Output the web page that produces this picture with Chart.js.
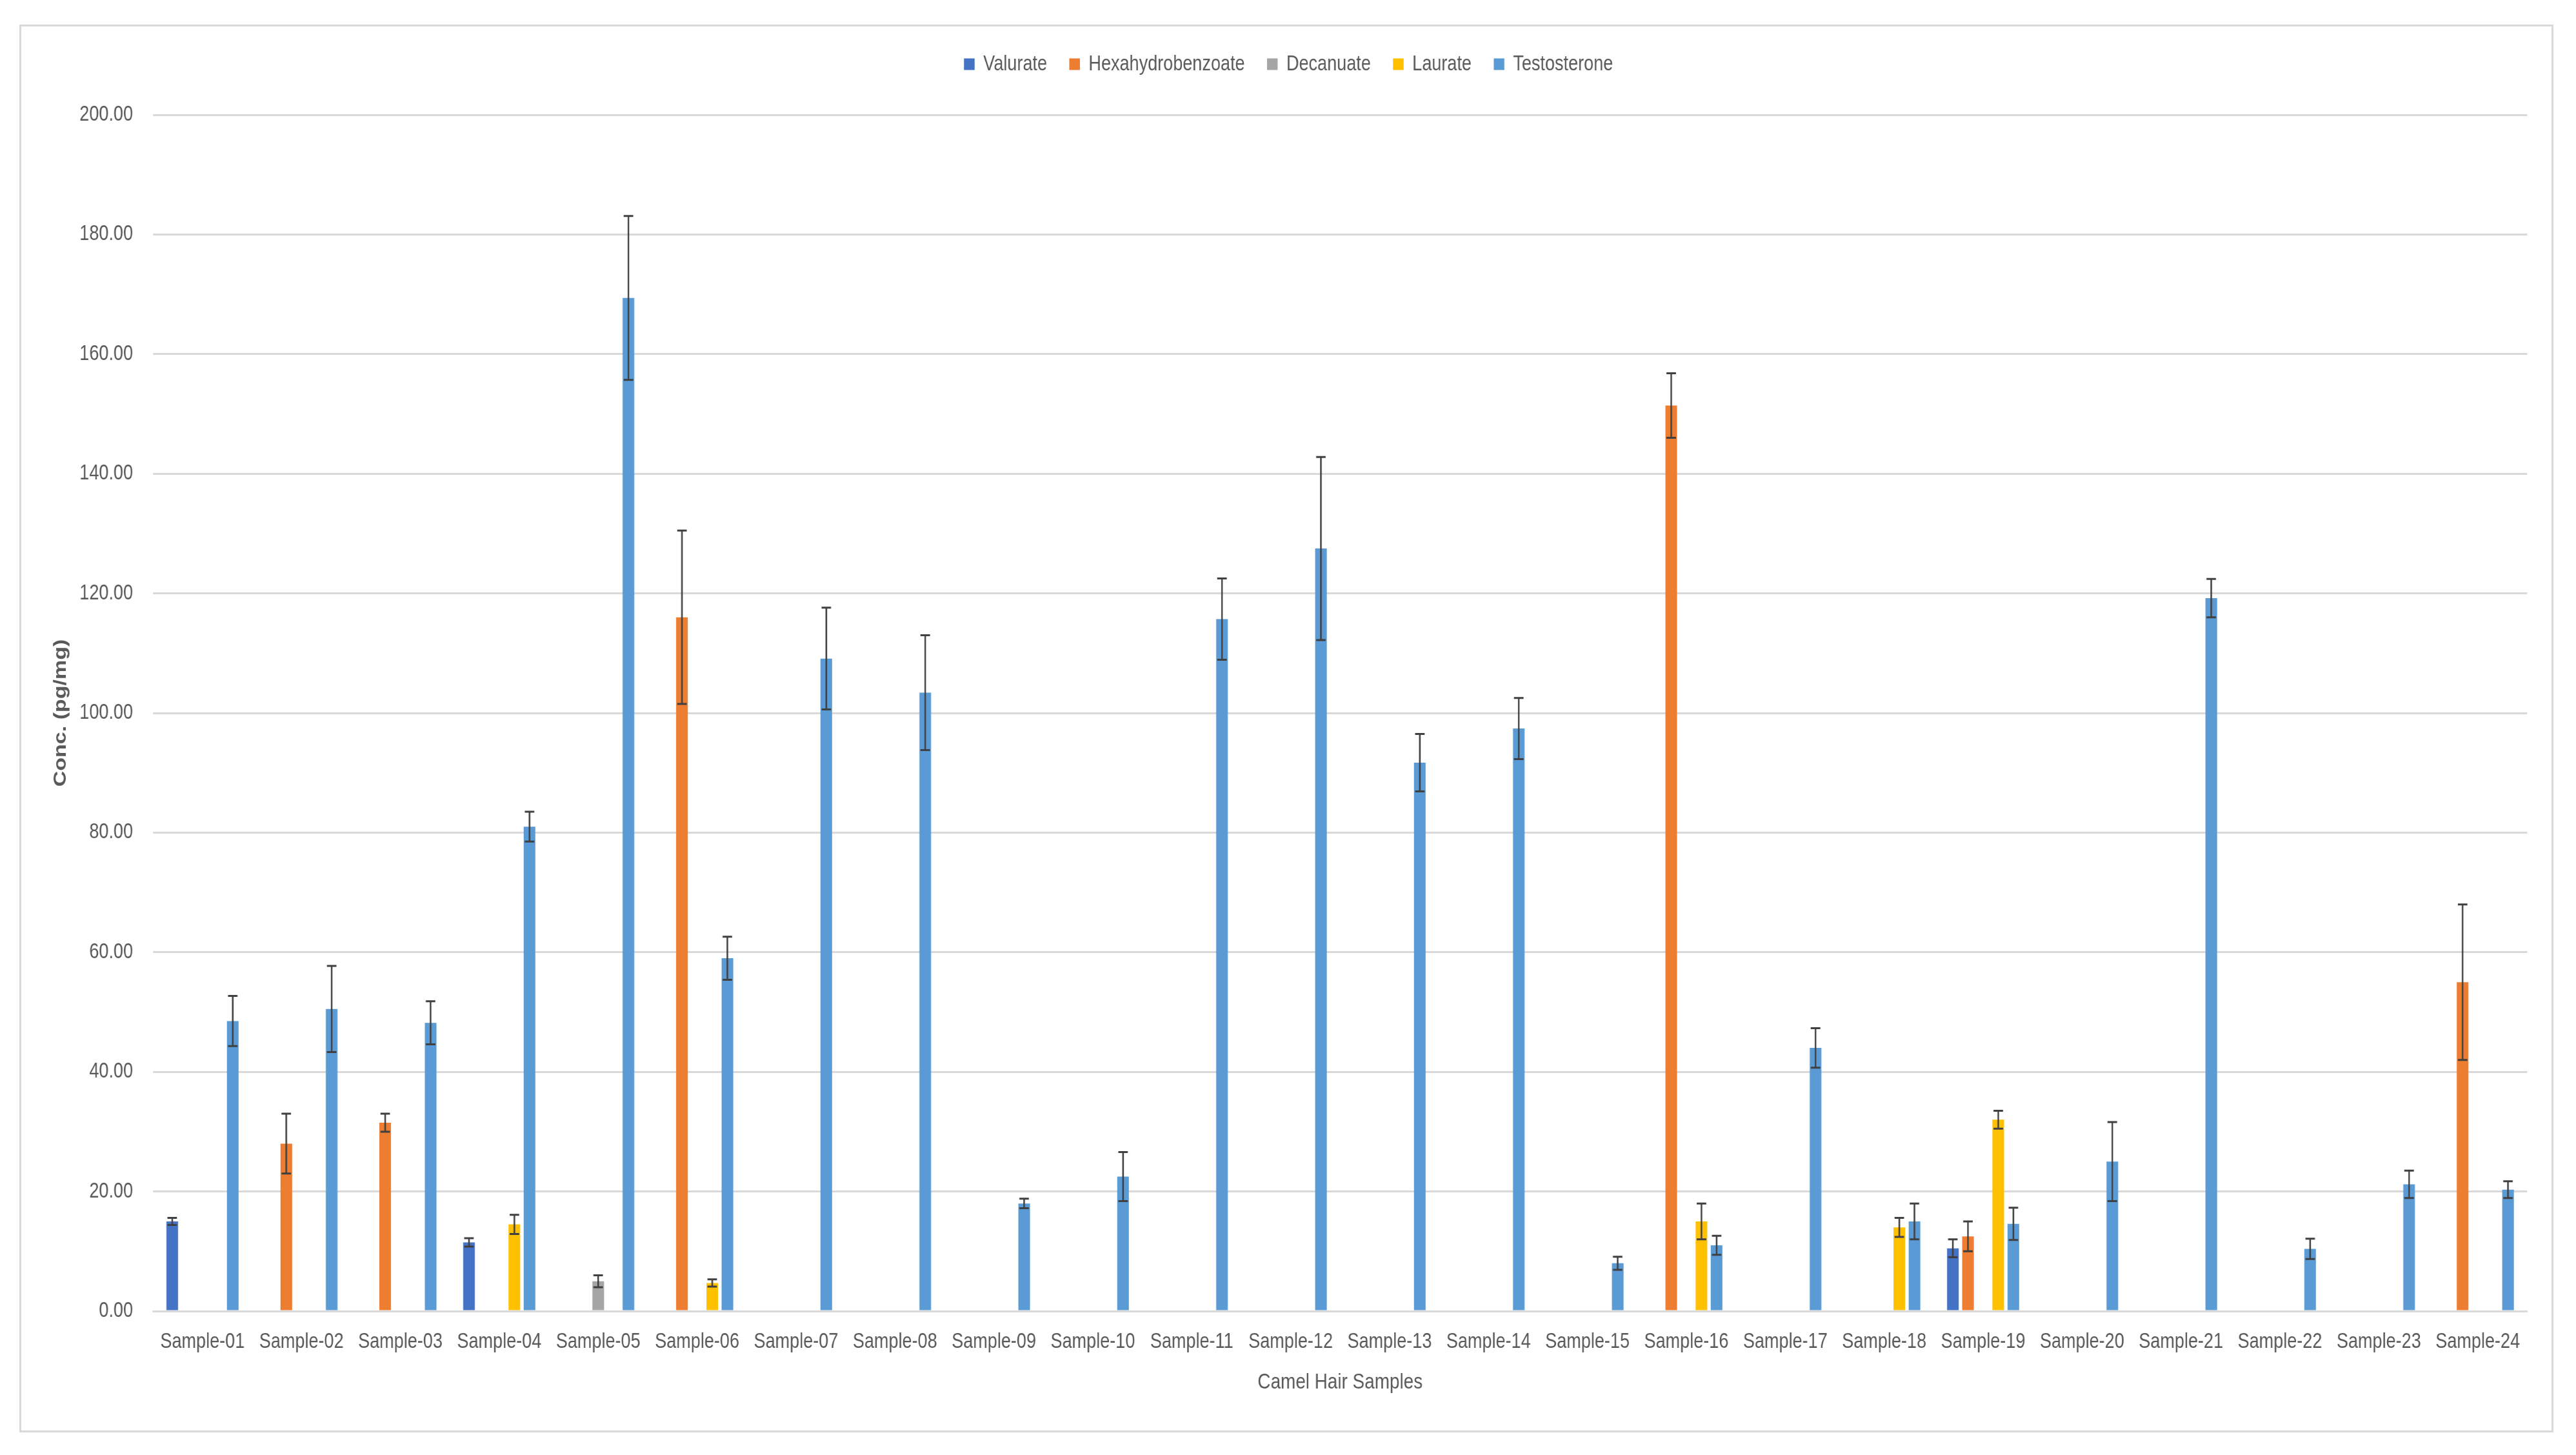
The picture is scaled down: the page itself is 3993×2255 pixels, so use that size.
<!DOCTYPE html>
<html>
<head>
<meta charset="utf-8">
<title>Camel Hair Samples</title>
<script src="https://cdn.jsdelivr.net/npm/chart.js@4/dist/chart.umd.min.js"></script>
<style>
  html, body { margin: 0; padding: 0; background: #fff; }
  #frame {
    position: absolute; left: 30px; top: 38px;
    width: 3922px; height: 2176px;
    border: 3px solid #d9d9d9;
    overflow: hidden;
  }
  /* the source figure is squeezed sideways, so the chart is drawn wider and condensed */
  #inner {
    width: 4783px; height: 2176px;
    transform: scaleX(0.82);
    transform-origin: 0 0;
  }
</style>
</head>
<body>
<div id="frame"><div id="inner"><canvas id="chart"></canvas></div></div>
<script>
// samples on the x axis
const samples = [
  'Sample-01', 'Sample-02', 'Sample-03', 'Sample-04', 'Sample-05', 'Sample-06',
  'Sample-07', 'Sample-08', 'Sample-09', 'Sample-10', 'Sample-11', 'Sample-12',
  'Sample-13', 'Sample-14', 'Sample-15', 'Sample-16', 'Sample-17', 'Sample-18',
  'Sample-19', 'Sample-20', 'Sample-21', 'Sample-22', 'Sample-23', 'Sample-24'
];

// conc. (pg/mg), null = not detected
const valurate = [15.0, null, null, 11.5, null, null, null, null, null, null, null, null,
                  null, null, null, null, null, null, 10.5, null, null, null, null, null];
const valurateErr = [0.6, null, null, 0.7, null, null, null, null, null, null, null, null,
                     null, null, null, null, null, null, 1.5, null, null, null, null, null];

const hexahydrobenzoate = [null, 28.0, 31.5, null, null, 116.0, null, null, null, null, null, null,
                           null, null, null, 151.4, null, null, 12.5, null, null, null, null, 55.0];
const hexahydrobenzoateErr = [null, 5.0, 1.5, null, null, 14.5, null, null, null, null, null, null,
                              null, null, null, 5.4, null, null, 2.5, null, null, null, null, 13.0];

const decanuate = [null, null, null, null, 5.0, null, null, null, null, null, null, null,
                   null, null, null, null, null, null, null, null, null, null, null, null];
const decanuateErr = [null, null, null, null, 1.0, null, null, null, null, null, null, null,
                      null, null, null, null, null, null, null, null, null, null, null, null];

const laurate = [null, null, null, 14.5, null, 4.7, null, null, null, null, null, null,
                 null, null, null, 15.0, null, 14.0, 32.0, null, null, null, null, null];
const laurateErr = [null, null, null, 1.6, null, 0.6, null, null, null, null, null, null,
                    null, null, null, 3.0, null, 1.6, 1.5, null, null, null, null, null];

const testosterone = [48.5, 50.5, 48.2, 81.0, 169.4, 59.0, 109.1, 103.4, 18.0, 22.5, 115.7, 127.5,
                      91.7, 97.4, 8.0, 11.0, 44.0, 15.0, 14.6, 25.0, 119.2, 10.4, 21.2, 20.3];
const testosteroneErr = [4.2, 7.2, 3.6, 2.5, 13.7, 3.6, 8.5, 9.6, 0.8, 4.1, 6.8, 15.3,
                         4.8, 5.1, 1.1, 1.6, 3.3, 3.0, 2.7, 6.6, 3.2, 1.7, 2.3, 1.4];

const yTicks = [0, 20, 40, 60, 80, 100, 120, 140, 160, 180, 200];

const FONT = "'Liberation Sans', Arial, sans-serif";
const TEXT = '#595959';

function series(label, data, errors, color) {
  return {
    label: label,
    data: data,
    errors: errors,
    backgroundColor: color,
    borderWidth: 0,
    categoryPercentage: 0.765,
    barPercentage: 0.77
  };
}

// draws +/- error bars with caps on top of every bar
const errorBars = {
  id: 'errorBars',
  afterDatasetsDraw(chart) {
    const ctx = chart.ctx;
    const y = chart.scales.y;
    ctx.save();
    ctx.strokeStyle = '#404040';
    ctx.lineWidth = 3;
    chart.data.datasets.forEach((ds, i) => {
      const meta = chart.getDatasetMeta(i);
      meta.data.forEach((bar, j) => {
        const v = ds.data[j];
        const e = ds.errors[j];
        if (v == null || e == null) return;
        const top = y.getPixelForValue(v + e);
        const bot = y.getPixelForValue(v - e);
        const cap = 9;
        ctx.beginPath();
        ctx.moveTo(bar.x, top);
        ctx.lineTo(bar.x, bot);
        ctx.moveTo(bar.x - cap, top);
        ctx.lineTo(bar.x + cap, top);
        ctx.moveTo(bar.x - cap, bot);
        ctx.lineTo(bar.x + cap, bot);
        ctx.stroke();
      });
    });
    ctx.restore();
  }
};

// more room between the legend and the plot
const legendGap = {
  id: 'legendGap',
  beforeInit(chart) {
    const fit = chart.legend.fit;
    chart.legend.fit = function () {
      fit.call(this);
      this.height += 52;
    };
  }
};

new Chart(document.getElementById('chart').getContext('2d'), {
  type: 'bar',
  data: {
    labels: samples,
    datasets: [
      series('Valurate', valurate, valurateErr, '#4472C4'),
      series('Hexahydrobenzoate', hexahydrobenzoate, hexahydrobenzoateErr, '#ED7D31'),
      series('Decanuate', decanuate, decanuateErr, '#A5A5A5'),
      series('Laurate', laurate, laurateErr, '#FFC000'),
      series('Testosterone', testosterone, testosteroneErr, '#5B9BD5')
    ]
  },
  options: {
    responsive: true,
    maintainAspectRatio: false,
    animation: false,
    layout: { padding: { top: 0, left: 54, right: 46, bottom: 20 } },
    plugins: {
      legend: {
        position: 'top',
        labels: {
          boxWidth: 20,
          boxHeight: 18,
          padding: 42,
          color: TEXT,
          font: { family: FONT, size: 33 }
        }
      },
      tooltip: { enabled: false }
    },
    scales: {
      x: {
        grid: { display: false, drawTicks: false },
        border: { display: true, color: '#d9d9d9', width: 3 },
        ticks: { color: TEXT, font: { family: FONT, size: 33 }, padding: 28, maxRotation: 0, autoSkip: false },
        title: {
          display: true,
          text: 'Camel Hair Samples',
          color: TEXT,
          font: { family: FONT, size: 34 },
          padding: { top: 0, bottom: 34 }
        },
        afterFit(scale) { scale.height = 165; }
      },
      y: {
        min: 0,
        max: 200,
        afterBuildTicks(scale) { scale.ticks = yTicks.map(v => ({ value: v })); },
        grid: { color: '#d9d9d9', lineWidth: 3, drawTicks: false },
        border: { display: false },
        ticks: {
          color: TEXT,
          font: { family: FONT, size: 33 },
          padding: 38,
          callback: v => Number(v).toFixed(2)
        },
        title: {
          display: true,
          text: 'Conc. (pg/mg)',
          color: TEXT,
          font: { family: FONT, size: 34, weight: 'bold' },
          padding: { top: 0, bottom: 0 }
        },
        afterFit(scale) { scale.width = 195; }
      }
    }
  },
  plugins: [errorBars, legendGap]
});
</script>
</body>
</html>
